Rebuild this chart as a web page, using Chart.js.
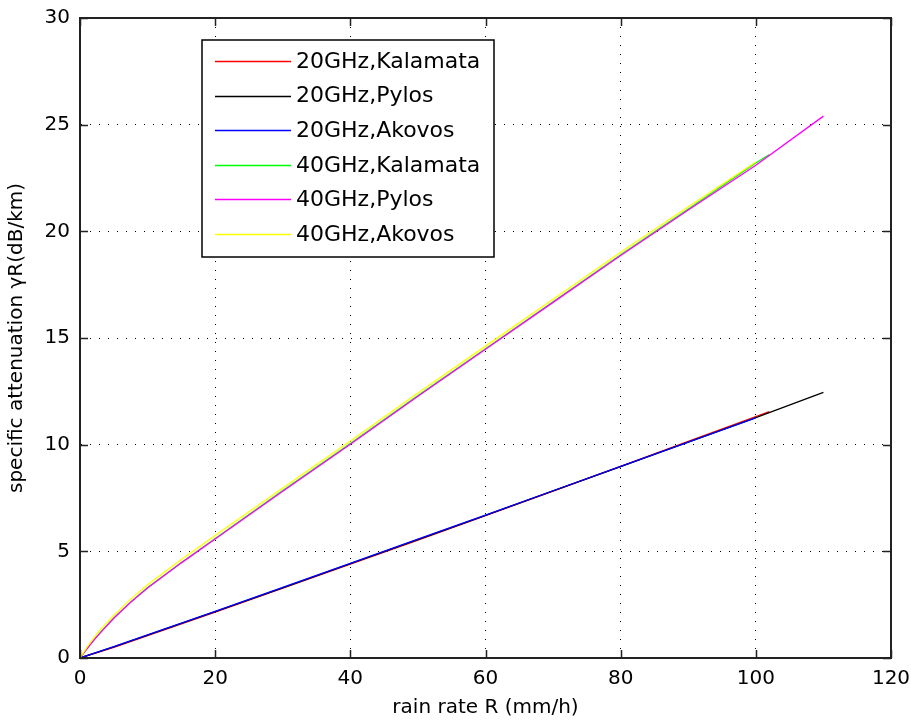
<!DOCTYPE html>
<html>
<head>
<meta charset="utf-8">
<script src="https://cdn.jsdelivr.net/npm/chart.js@4.4.1/dist/chart.umd.min.js"></script>
<style>
html,body{margin:0;padding:0;background:#fff;}
#c{display:block;}
</style>
</head>
<body>
<canvas id="c" width="911" height="722" style="width:911px;height:722px"></canvas>
<script>
// ---- data ----
const xLabel = 'rain rate R (mm/h)';
const yLabel = 'specific attenuation \u03b3R(dB/km)';
const xTicks = [0, 20, 40, 60, 80, 100, 120];
const yTicks = [0, 5, 10, 15, 20, 25, 30];

const seriesNames = ['20GHz,Kalamata', '20GHz,Pylos', '20GHz,Akovos', '40GHz,Kalamata', '40GHz,Pylos', '40GHz,Akovos'];
const seriesColors = ['#ff0000', '#000000', '#0000ff', '#00ff00', '#ff00ff', '#ffff00'];

const rate20Kalamata = [0, 5, 10, 20, 30, 40, 50, 60, 70, 80, 90, 100, 102];
const att20Kalamata  = [0, 0.50, 1.05, 2.15, 3.27, 4.40, 5.53, 6.67, 7.82, 8.98, 10.15, 11.32, 11.55];
const rate20Pylos    = [0, 5, 10, 20, 30, 40, 50, 60, 70, 80, 90, 100, 110];
const att20Pylos     = [0, 0.52, 1.07, 2.17, 3.29, 4.42, 5.55, 6.69, 7.83, 8.97, 10.12, 11.27, 12.45];
const rate20Akovos   = [0, 5, 10, 20, 30, 40, 50, 60, 70, 80, 90, 100];
const att20Akovos    = [0, 0.53, 1.08, 2.19, 3.31, 4.44, 5.57, 6.70, 7.84, 8.98, 10.12, 11.26];

const rate40Kalamata = [0, 1, 2, 3, 5, 7.5, 10, 15, 20, 30, 40, 50, 60, 70, 80, 90, 100, 102];
const att40Kalamata  = [0, 0.43, 0.83, 1.20, 1.88, 2.63, 3.30, 4.48, 5.60, 7.85, 10.05, 12.30, 14.50, 16.70, 18.90, 21.05, 23.20, 23.60];
const rate40Pylos    = [0, 1, 2, 3, 5, 7.5, 10, 15, 20, 30, 40, 50, 60, 70, 80, 90, 100, 110];
const att40Pylos     = [0, 0.42, 0.82, 1.18, 1.86, 2.61, 3.28, 4.46, 5.58, 7.82, 10.02, 12.27, 14.47, 16.67, 18.87, 21.00, 23.10, 25.40];
const rate40Akovos   = [0, 1, 2, 3, 5, 7.5, 10, 15, 20, 30, 40, 50, 60, 70, 80, 90, 100];
const att40Akovos    = [0, 0.50, 0.92, 1.32, 2.00, 2.76, 3.43, 4.62, 5.74, 7.97, 10.17, 12.42, 14.62, 16.82, 19.02, 21.15, 23.25];

const rates = [rate20Kalamata, rate20Pylos, rate20Akovos, rate40Kalamata, rate40Pylos, rate40Akovos];
const atts  = [att20Kalamata, att20Pylos, att20Akovos, att40Kalamata, att40Pylos, att40Akovos];

// ---- chart ----
const FONT = "'DejaVu Sans', sans-serif";

const datasets = seriesNames.map((name, i) => ({
  label: name,
  data: rates[i].map((r, j) => ({x: r, y: atts[i][j]})),
  borderColor: seriesColors[i],
  backgroundColor: seriesColors[i],
  borderWidth: 1.3,
  pointRadius: 0,
  tension: 0,
  fill: false,
  order: seriesNames.length - i
}));

const framePlugin = {
  id: 'frame',
  afterDraw(chart) {
    const ctx = chart.ctx;
    const a = chart.chartArea;
    const xs = chart.scales.x, ys = chart.scales.y;
    ctx.save();
    ctx.strokeStyle = '#222';
    ctx.lineWidth = 2;
    ctx.strokeRect(a.left, a.top, a.right - a.left, a.bottom - a.top);
    ctx.lineWidth = 1.5;
    const L = 8;
    ctx.beginPath();
    xs.ticks.forEach(t => {
      const px = Math.round(xs.getPixelForValue(t.value)) + 0.5;
      ctx.moveTo(px, a.bottom); ctx.lineTo(px, a.bottom - L);
      ctx.moveTo(px, a.top); ctx.lineTo(px, a.top + L);
    });
    ys.ticks.forEach(t => {
      const py = Math.round(ys.getPixelForValue(t.value)) + 0.5;
      ctx.moveTo(a.left, py); ctx.lineTo(a.left + L, py);
      ctx.moveTo(a.right, py); ctx.lineTo(a.right - L, py);
    });
    ctx.stroke();

    // legend box
    const bx = 202, by = 40, bw = 292, bh = 217;
    ctx.fillStyle = '#fff';
    ctx.fillRect(bx, by, bw, bh);
    ctx.strokeStyle = '#000';
    ctx.lineWidth = 1.5;
    ctx.strokeRect(bx, by, bw, bh);
    ctx.font = '22px ' + FONT;
    ctx.textBaseline = 'middle';
    ctx.textAlign = 'left';
    chart.data.datasets.forEach((ds, i) => {
      const y = 61 + i * 34.6;
      ctx.strokeStyle = ds.borderColor;
      ctx.lineWidth = 1.5;
      ctx.beginPath();
      ctx.moveTo(215, Math.round(y) + 0.5);
      ctx.lineTo(291, Math.round(y) + 0.5);
      ctx.stroke();
      ctx.fillStyle = '#000';
      ctx.fillText(ds.label, 296, y + 1);
    });
    ctx.restore();
  }
};

new Chart(document.getElementById('c'), {
  type: 'line',
  data: {datasets},
  options: {
    responsive: false,
    devicePixelRatio: 1,
    animation: false,
    layout: {padding: {left: 0, right: 20, top: 18, bottom: 0}},
    plugins: {legend: {display: false}, tooltip: {enabled: false}},
    scales: {
      x: {
        type: 'linear',
        min: xTicks[0],
        max: xTicks[xTicks.length - 1],
        afterBuildTicks: s => { s.ticks = xTicks.map(v => ({value: v})); },
        afterFit: s => { s.height = 64; s.paddingLeft = 0; s.paddingRight = 0; },
        ticks: {color: '#000', font: {family: FONT, size: 20}, padding: 9, maxRotation: 0},
        grid: {color: '#000', lineWidth: 1, drawTicks: false},
        border: {display: true, color: '#222', width: 2, dash: [1, 8]},
        title: {display: true, text: xLabel, color: '#000', font: {family: FONT, size: 20}, padding: {top: 0, bottom: 2}}
      },
      y: {
        type: 'linear',
        min: yTicks[0],
        max: yTicks[yTicks.length - 1],
        afterBuildTicks: s => { s.ticks = yTicks.map(v => ({value: v})); },
        afterFit: s => { s.width = 80; s.paddingTop = 0; s.paddingBottom = 0; },
        ticks: {color: '#000', font: {family: FONT, size: 20}, padding: 10},
        grid: {color: '#000', lineWidth: 1, drawTicks: false},
        border: {display: true, color: '#222', width: 2, dash: [1, 8]},
        title: {display: true, text: yLabel, color: '#000', font: {family: FONT, size: 20}, padding: {top: 5, bottom: 0}}
      }
    }
  },
  plugins: [framePlugin]
});
</script>
</body>
</html>
